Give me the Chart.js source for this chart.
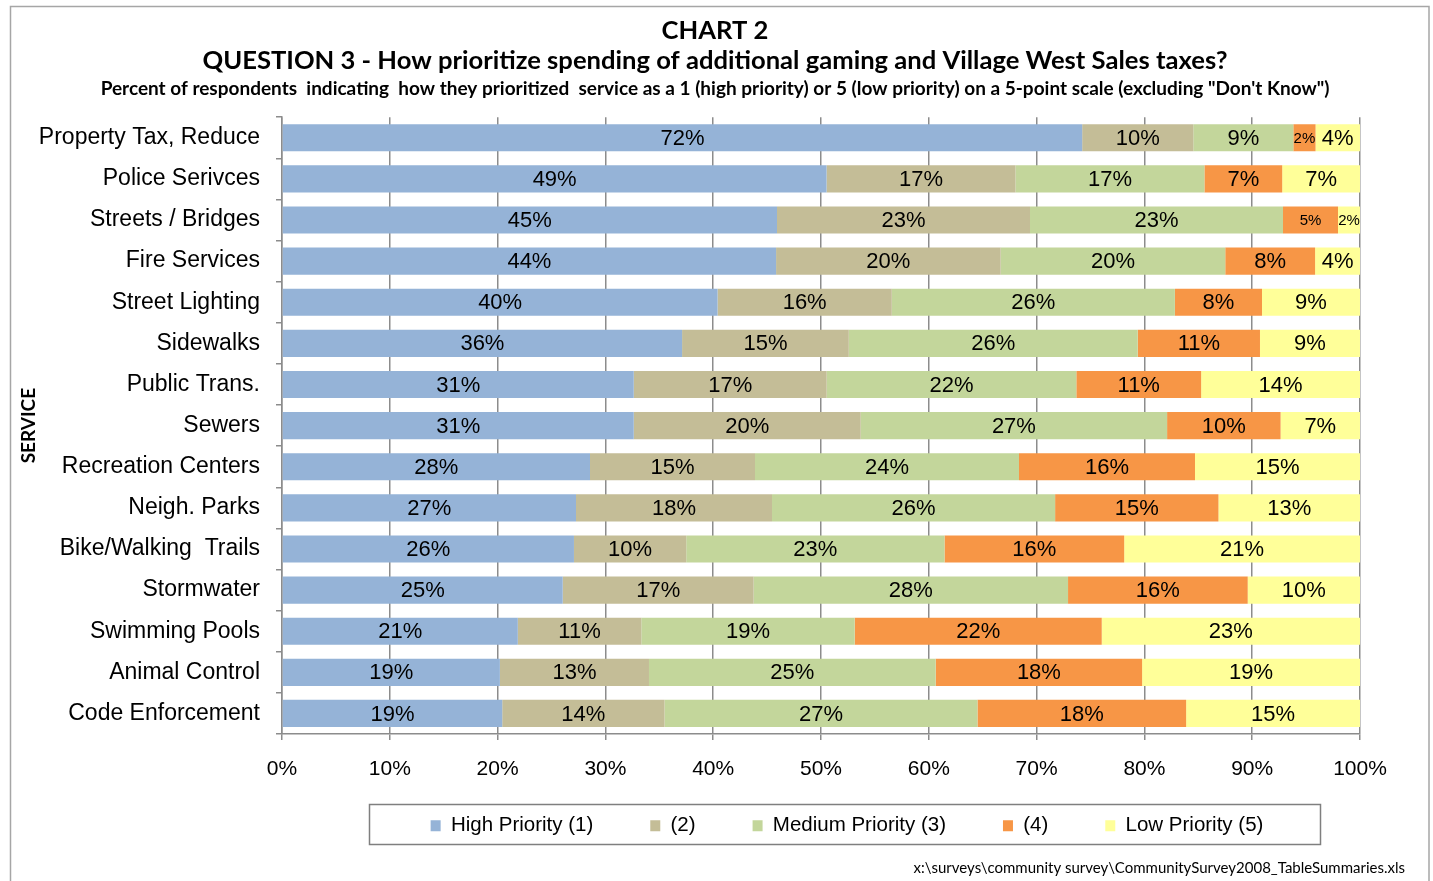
<!DOCTYPE html>
<html>
<head>
<meta charset="utf-8">
<script src="https://cdn.jsdelivr.net/npm/chart.js@4.4.1/dist/chart.umd.min.js"></script>
<style>
html,body{margin:0;padding:0;background:#fff;}
#wrap{width:1433px;height:881px;position:relative;}
</style>
</head>
<body>
<div id="wrap"><canvas id="c"></canvas></div>
<script>
// ---- DATA ----
const categories = [
  'Property Tax, Reduce', 'Police Serivces', 'Streets / Bridges', 'Fire Services',
  'Street Lighting', 'Sidewalks', 'Public Trans.', 'Sewers', 'Recreation Centers',
  'Neigh. Parks', 'Bike/Walking  Trails', 'Stormwater', 'Swimming Pools',
  'Animal Control', 'Code Enforcement'
];
const highPriority   = [72, 49, 45, 44, 40, 36, 31, 31, 28, 27, 26, 25, 21, 19, 19];
const priority2      = [10, 17, 23, 20, 16, 15, 17, 20, 15, 18, 10, 17, 11, 13, 14];
const mediumPriority = [ 9, 17, 23, 20, 26, 26, 22, 27, 24, 26, 23, 28, 19, 25, 27];
const priority4      = [ 2,  7,  5,  8,  8, 11, 11, 10, 16, 15, 16, 16, 22, 18, 18];
const lowPriority    = [ 4,  7,  2,  4,  9,  9, 14,  7, 15, 13, 21, 10, 23, 19, 15];
const seriesNames = ['High Priority (1)', '(2)', 'Medium Priority (3)', '(4)', 'Low Priority (5)'];
const xTickLabels = ['0%', '10%', '20%', '30%', '40%', '50%', '60%', '70%', '80%', '90%', '100%'];

const titleLines = ['CHART 2', 'QUESTION 3 - How prioritize spending of additional gaming and Village West Sales taxes?'];
const subtitleText = 'Percent of respondents  indicating  how they prioritized  service as a 1 (high priority) or 5 (low priority) on a 5-point scale (excluding "Don\'t Know")';
const yAxisTitle = 'SERVICE';
const footnoteText = 'x:\\surveys\\community survey\\CommunitySurvey2008_TableSummaries.xls';

// ---- styling ----
const colors = ['#95B3D7', '#C4BD97', '#C3D69B', '#F79646', '#FFFF99'];
const gridColor = '#8c8c8c';
const SANS = '"Liberation Sans", Arial, Helvetica, sans-serif';
const CAL = 'Lato, "Open Sans", sans-serif';

// Excel-style 100% stacking: each row is shown as share of its total
const seriesRaw = [highPriority, priority2, mediumPriority, priority4, lowPriority];
const rowTotals = categories.map((_, i) => seriesRaw.reduce((s, arr) => s + arr[i], 0));

const datasets = seriesRaw.map((arr, k) => ({
  label: seriesNames[k],
  data: arr.map((v, i) => v / rowTotals[i] * 100),
  rawValues: arr,
  backgroundColor: colors[k],
  borderWidth: 0,
  barPercentage: 0.66,
  categoryPercentage: 1.0
}));

// ---- plugins ----
const frameAndFootnote = {
  id: 'frameAndFootnote',
  beforeDraw(chart) {
    const ctx = chart.ctx;
    ctx.save();
    ctx.fillStyle = '#fff';
    ctx.fillRect(0, 0, chart.width, chart.height);
    ctx.strokeStyle = '#a6a6a6';
    ctx.lineWidth = 1.5;
    ctx.strokeRect(10.5, 6.5, chart.width - 4 - 10.5, chart.height + 20);
    ctx.restore();
  },
  afterDraw(chart) {
    const ctx = chart.ctx;
    ctx.save();
    ctx.font = '15px ' + CAL;
    ctx.fillStyle = '#000';
    ctx.textAlign = 'right';
    ctx.textBaseline = 'middle';
    ctx.fillText(footnoteText, 1405, 868);
    // legend frame
    const lg = chart.legend;
    if (lg && lg.legendHitBoxes && lg.legendHitBoxes.length) {
      const hb = lg.legendHitBoxes;
      const l = Math.min(...hb.map(h => h.left)) - 62;
      const r = Math.max(...hb.map(h => h.left + h.width)) + 56;
      const t = hb[0].top - 12;
      ctx.strokeStyle = '#7f7f7f';
      ctx.lineWidth = 1.5;
      ctx.strokeRect(Math.round(l) + 0.5, Math.round(t) + 0.5, Math.round(r - l), 40);
    }
    ctx.restore();
  }
};

const legendShift = {
  id: 'legendShift',
  afterLayout(chart, args, opts) {
    const lg = chart.legend;
    if (lg) {
      lg.left += opts.dx; lg.right += opts.dx;
      lg.top += opts.dy; lg.bottom += opts.dy;
    }
  }
};

const barLabels = {
  id: 'barLabels',
  afterDatasetsDraw(chart, args, opts) {
    const ctx = chart.ctx;
    ctx.save();
    ctx.fillStyle = '#000';
    ctx.textAlign = 'center';
    ctx.textBaseline = 'middle';
    chart.data.datasets.forEach((ds, di) => {
      const meta = chart.getDatasetMeta(di);
      meta.data.forEach((el, i) => {
        const p = el.getProps(['x', 'y', 'base'], true);
        const small = opts.small.some(s => s[0] === i && s[1] === di);
        ctx.font = (small ? opts.smallSize : opts.size) + 'px ' + SANS;
        ctx.fillText(ds.rawValues[i] + '%', (p.x + p.base) / 2, p.y + 1);
      });
    });
    ctx.restore();
  }
};

Chart.defaults.color = '#000';
Chart.defaults.font.family = SANS;

new Chart(document.getElementById('c'), {
  type: 'bar',
  data: { labels: categories, datasets },
  options: {
    indexAxis: 'y',
    responsive: true,
    maintainAspectRatio: false,
    animation: false,
    layout: { padding: { top: 16, bottom: 9.5, left: 10, right: 13 } },
    scales: {
      x: {
        stacked: true,
        min: 0, max: 100,
        ticks: {
          stepSize: 10,
          padding: 17,
          font: { size: 21, family: SANS },
          color: '#000',
          callback: (v, i) => xTickLabels[i]
        },
        grid: { color: gridColor, lineWidth: 1.5, tickLength: 6, drawTicks: true },
        border: { color: gridColor, width: 1.5 },
        afterFit(s) { s.height = 50; }
      },
      y: {
        stacked: true,
        ticks: { padding: 16, font: { size: 23, family: SANS }, color: '#000', autoSkip: false },
        grid: { drawOnChartArea: false, drawTicks: true, tickLength: 6, color: gridColor, lineWidth: 1.5, offset: true },
        border: { color: gridColor, width: 1.5 },
        title: {
          display: true, text: yAxisTitle, color: '#000',
          font: { family: CAL, weight: 'bold', size: 19, lineHeight: 1.2 },
          padding: { top: 7, bottom: 0 }
        },
        afterFit(s) { s.width = 272; }
      },
      yRight: {
        type: 'category',
        position: 'right',
        display: true,
        ticks: { display: false },
        grid: { display: false },
        border: { display: false },
        afterFit(s) { s.width = 60; }
      }
    },
    plugins: {
      title: {
        display: true, text: titleLines, color: '#000',
        font: { family: CAL, weight: 'bold', size: 25.6, lineHeight: 1.17 },
        padding: { top: 0, bottom: 0 }
      },
      subtitle: {
        display: true, text: subtitleText, color: '#000',
        font: { family: CAL, weight: 'bold', size: 19, lineHeight: 1.07 },
        padding: { top: 3, bottom: 18 }
      },
      legend: {
        position: 'bottom',
        fullSize: false,
        labels: {
          boxWidth: 10, boxHeight: 11, padding: 57, color: '#000',
          font: { family: SANS, size: 20.5 }
        }
      },
      tooltip: { enabled: false },
      legendShift: { dx: 26, dy: -25.5 },
      barLabels: { size: 22, smallSize: 15, small: [[0, 3], [2, 3], [2, 4]] }
    }
  },
  plugins: [frameAndFootnote, legendShift, barLabels]
});
</script>
</body>
</html>
